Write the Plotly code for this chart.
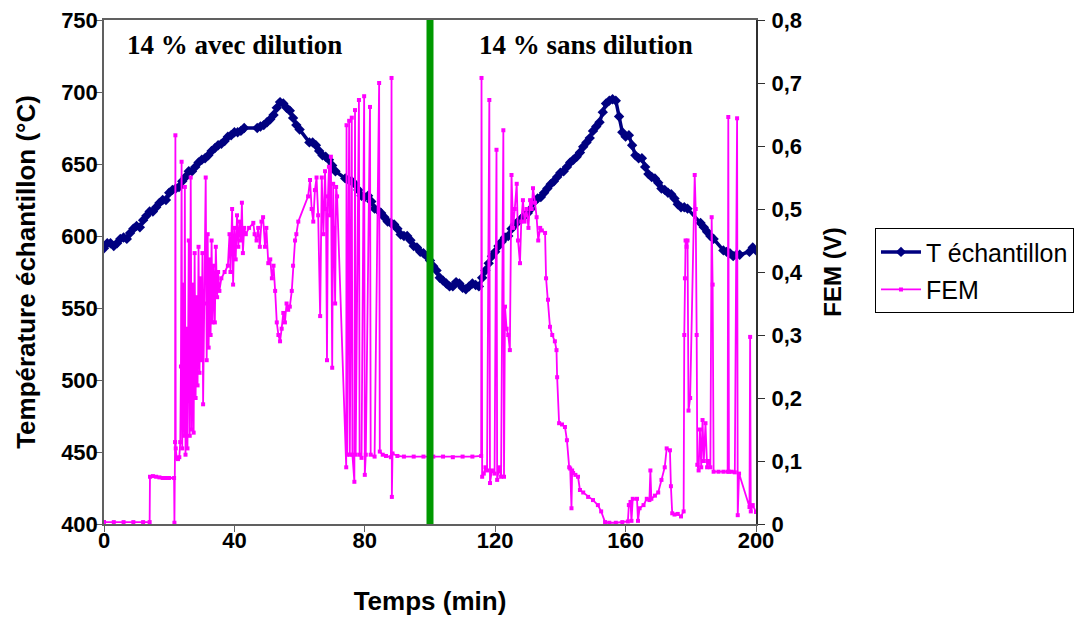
import plotly.graph_objects as go

# ---------------- data ----------------
temp_t = [0, 1, 2, 3, 4, 5, 6, 7, 8, 9, 10, 11, 12, 13, 14, 15, 16, 17, 18, 19,
          20, 21, 22, 23, 24, 25, 26, 27, 28, 29, 30, 31, 32, 33, 34, 35, 36, 37, 38, 39,
          40, 41, 42, 43, 47, 48, 49, 50, 51, 52, 53, 54, 55, 56, 57, 58, 59, 60,
          63, 64, 65, 66, 67, 68, 69, 70, 71, 74, 75, 76, 77, 78, 79,
          80, 81, 82, 83, 84, 85, 86, 87, 88, 89, 90, 91, 92, 93, 94, 95, 96, 97, 98, 99,
          100, 101, 102, 103, 104, 105, 106, 107, 108, 109, 110, 111, 112, 113, 114, 115, 116, 117, 118, 119,
          120, 121, 122, 123, 124, 125, 126, 127, 128, 129, 130, 131, 132, 133, 134, 135, 136, 137, 138, 139,
          140, 141, 142, 143, 144, 145, 146, 147, 148, 149, 150, 151, 152, 153, 154, 155, 156, 157, 158, 159,
          160, 161, 162, 163, 164, 165, 166, 167, 168, 169, 170, 171, 172, 173, 174, 175, 176, 177, 178, 179,
          183, 184, 185, 186, 187, 190, 191, 192, 193, 194, 195, 198, 199, 200]
temp_v = [591.5, 595, 595, 593, 595, 598, 599, 598, 602, 605, 607, 606, 611, 614, 617, 617, 620, 623, 625, 625,
          630, 632, 633, 634, 638, 641, 645, 645, 648, 651, 653, 654, 656, 659, 661, 663, 664, 666, 669, 670,
          672, 672, 673, 675, 675, 676, 677, 679, 681, 684, 689, 693, 692, 689, 687, 682, 677, 674,
          665, 665, 663, 659, 656, 655, 653, 649, 645, 640, 639, 638, 636, 632, 628,
          627, 628, 624, 619, 618, 616, 613, 610, 609, 608, 605, 601, 600, 600, 597, 593, 592, 589, 588, 586,
          583, 579, 576, 571, 569, 567, 565, 565, 568, 567, 564, 563, 565, 567, 566, 565, 571, 576, 581, 586,
          589, 593, 596, 599, 600, 605, 608, 610, 612, 614, 616, 619, 624, 626, 627, 630, 633, 636, 638, 641,
          644, 645, 648, 651, 653, 655, 658, 662, 665, 668, 673, 676, 679, 686, 692, 694, 695, 694, 683, 672,
          669, 670, 663, 656, 654, 654, 648, 643, 641, 640, 637, 633, 632, 630, 629, 626, 622, 620, 620, 619,
          609, 606, 603, 600, 598, 590, 589, 588, 586, 587, 587, 589, 592, 590]

fem_t = [0, 3, 6, 9, 12, 14.0, 14.1, 15, 16, 17, 18, 19, 20, 21.5, 21.6, 21.8, 21.9, 22.0, 22.3, 22.7,
         23.1, 23.4, 23.6, 23.8, 24.0, 24.3, 24.6, 24.8, 25.0, 25.3, 25.6, 26.0, 26.3, 26.6, 26.9, 27.2, 27.5, 27.8, 28.1, 28.4,
         28.7, 29.0, 29.3, 29.6, 29.9, 30.2, 30.4, 30.8, 31.2, 31.5, 31.8, 32.1, 32.4, 32.7, 33.0, 33.3, 33.6, 34.0, 34.3, 34.7,
         35.0, 35.4, 36.0, 37.0, 38.0, 38.5, 38.8, 39.3, 39.6, 40.0, 40.4, 40.8, 41.2, 41.6, 42.0, 42.3, 42.6, 43.0, 43.5, 44.5,
         45.8, 46.2, 46.8, 47.3, 47.8, 48.3, 48.8, 49.4, 49.8, 50.4, 51.0, 51.5, 52.0, 52.5, 53.0, 53.5, 54.0, 54.5, 55.0, 55.5,
         56.0, 56.5, 57.0, 57.6, 58.0, 58.6, 59.0, 59.6, 62.6, 63.2, 63.7, 64.2, 64.7, 65.2, 65.7, 66.3, 66.8, 67.3, 67.8, 68.1,
         68.4, 68.7, 69.0, 69.3, 69.6, 70.0, 70.3, 70.6, 70.9, 71.2, 71.5, 74.3, 74.4, 74.6, 75.2, 75.4, 76.0, 76.2, 76.8, 77.0,
         77.2, 78.2, 78.4, 79.0, 79.8, 80.0, 80.3, 81.6, 81.8, 83.0, 84.4, 84.6, 85.5, 86.5, 88.0, 88.2, 88.3, 88.5, 90, 92,
         95, 98, 101, 104, 107, 110, 113, 115.7, 115.8, 116.0, 116.5, 117.0, 117.5, 118.2, 118.4, 119.0, 119.8, 120.4, 120.6, 121.2,
         121.8, 122.5, 122.7, 123.0, 123.5, 124.0, 124.5, 125.0, 125.5, 126.0, 126.6, 127.0, 127.6, 128.0, 128.5, 129.0, 129.6, 130.2, 130.7, 131.2,
         131.6, 132.2, 132.7, 133.2, 133.8, 134.3, 135.3, 135.6, 136.2, 136.8, 137.5, 138.3, 138.8, 139.0, 139.6, 140.5, 141.4, 142.0, 142.7, 143.0,
         143.4, 143.6, 143.9, 144.6, 145.4, 146.0, 147.0, 148.5, 150.0, 151.5, 152.5, 153.7, 155, 157, 159, 160.7, 161.0, 161.5, 161.8, 162.2,
         163.5, 163.8, 164.3, 165.5, 166.5, 167.3, 167.6, 167.9, 169.0, 170.0, 171.0, 172.0, 172.6, 173.6, 173.9, 174.3, 175.0, 176.0, 177.0, 177.8,
         178.0, 178.2, 178.4, 178.7, 179.0, 179.3, 179.8, 181.2, 181.5, 181.8, 182.0, 182.4, 182.8, 183.2, 183.6, 184.0, 184.5, 185.0, 185.5, 186.0,
         186.4, 186.7, 187.0, 188.5, 190.0, 191.3, 191.5, 191.7, 192.5, 193.5, 194.2, 194.4, 194.8, 198.0, 198.2, 198.4, 199.0, 200.0]
fem_v = [0.003, 0.003, 0.003, 0.003, 0.003, 0.003, 0.075, 0.076, 0.075, 0.074, 0.073, 0.073, 0.073, 0.073, 0.002, 0.13, 0.617, 0.12, 0.105, 0.103,
         0.106, 0.13, 0.25, 0.575, 0.12, 0.38, 0.14, 0.535, 0.11, 0.31, 0.12, 0.45, 0.14, 0.55, 0.15, 0.38, 0.145, 0.43, 0.2, 0.36,
         0.22, 0.44, 0.24, 0.39, 0.26, 0.43, 0.19, 0.35, 0.55, 0.26, 0.46, 0.28, 0.42, 0.3, 0.45, 0.32, 0.41, 0.32, 0.44, 0.36,
         0.40, 0.37, 0.39, 0.40, 0.41, 0.46, 0.40, 0.50, 0.38, 0.47, 0.42, 0.49, 0.44, 0.48, 0.45, 0.51, 0.43, 0.47, 0.46, 0.47,
         0.478, 0.46, 0.45, 0.47, 0.44, 0.48, 0.487, 0.44, 0.47, 0.414, 0.42, 0.39, 0.41, 0.37, 0.32, 0.30, 0.29, 0.31, 0.335, 0.32,
         0.35, 0.34, 0.345, 0.37, 0.41, 0.45, 0.46, 0.48, 0.52, 0.546, 0.50, 0.48, 0.53, 0.55, 0.49, 0.33, 0.55, 0.46, 0.56, 0.50,
         0.26, 0.52, 0.567, 0.49, 0.583, 0.248, 0.54, 0.47, 0.35, 0.535, 0.52, 0.09, 0.633, 0.11, 0.64, 0.11, 0.645, 0.11, 0.067, 0.657,
         0.11, 0.673, 0.11, 0.105, 0.679, 0.078, 0.11, 0.662, 0.11, 0.107, 0.70, 0.115, 0.11, 0.108, 0.106, 0.708, 0.043, 0.112, 0.108, 0.107,
         0.107, 0.107, 0.107, 0.107, 0.106, 0.107, 0.107, 0.108, 0.708, 0.075, 0.08, 0.09, 0.085, 0.673, 0.065, 0.085, 0.08, 0.594, 0.07, 0.09,
         0.075, 0.625, 0.075, 0.345, 0.31, 0.30, 0.276, 0.554, 0.47, 0.50, 0.54, 0.45, 0.414, 0.48, 0.514, 0.48, 0.50, 0.47, 0.514, 0.50,
         0.533, 0.51, 0.487, 0.45, 0.47, 0.466, 0.462, 0.39, 0.356, 0.313, 0.30, 0.29, 0.276, 0.233, 0.16, 0.158, 0.154, 0.133, 0.09, 0.088,
         0.025, 0.085, 0.081, 0.078, 0.075, 0.054, 0.05, 0.043, 0.038, 0.03, 0.02, 0.003, 0.002, 0.002, 0.003, 0.004, 0.03, 0.035, 0.005, 0.04,
         0.04, 0.005, 0.025, 0.03, 0.04, 0.038, 0.085, 0.04, 0.045, 0.05, 0.07, 0.09, 0.12, 0.117, 0.06, 0.017, 0.015, 0.016, 0.012, 0.02,
         0.30, 0.39, 0.45, 0.44, 0.45, 0.18, 0.20, 0.554, 0.50, 0.30, 0.094, 0.085, 0.15, 0.09, 0.165, 0.10, 0.16, 0.09, 0.10, 0.09,
         0.487, 0.38, 0.083, 0.083, 0.083, 0.083, 0.646, 0.083, 0.083, 0.082, 0.644, 0.014, 0.08, 0.027, 0.297, 0.02, 0.03, 0.019]

x_ticks = [0, 40, 80, 120, 160, 200]
y_left_ticks = [400, 450, 500, 550, 600, 650, 700, 750]
y_right_ticks = [0, 0.1, 0.2, 0.3, 0.4, 0.5, 0.6, 0.7, 0.8]
y_right_labels = ["0", "0,1", "0,2", "0,3", "0,4", "0,5", "0,6", "0,7", "0,8"]

divider_t = 100
phase_labels = ["14 % avec dilution", "14 % sans dilution"]
phase_label_t = [40, 148]

series_names = ["T échantillon", "FEM"]

# ---------------- figure ----------------
SANS = "Liberation Sans, Arial, sans-serif"
SERIF = "Liberation Serif, Times New Roman, serif"
NAVY = "#000080"
MAGENTA = "#FF00FF"
GREEN = "#009900"

fig = go.Figure()
fig.add_trace(go.Scatter(
    x=temp_t, y=temp_v, name=series_names[0], mode="lines+markers",
    line=dict(color=NAVY, width=3.5), marker=dict(symbol="diamond", size=8, color=NAVY),
    legendgroup="a", yaxis="y"))
fig.add_trace(go.Scatter(
    x=fem_t, y=fem_v, name=series_names[1], mode="lines+markers",
    line=dict(color=MAGENTA, width=1.8), marker=dict(symbol="square", size=4, color=MAGENTA),
    legendgroup="b", yaxis="y2"))

fig.add_shape(type="line", xref="x", yref="paper", x0=divider_t, x1=divider_t, y0=0, y1=1,
              line=dict(color=GREEN, width=7), layer="above")

for txt, tx in zip(phase_labels, phase_label_t):
    fig.add_annotation(x=tx, y=0.95, xref="x", yref="paper", text="<b>%s</b>" % txt,
                       showarrow=False, font=dict(family=SERIF, size=27, color="black"),
                       xanchor="center", yanchor="middle")

fig.update_layout(
    width=1079, height=613,
    margin=dict(l=96, r=331, t=12, b=97),
    paper_bgcolor="white", plot_bgcolor="white",
    font=dict(family=SANS, color="black"),
    xaxis=dict(range=[0, 200], tickmode="array", tickvals=x_ticks, automargin=False,
               ticks="outside", ticklen=6, tickcolor="#606060", ticklabelstandoff=-10,
               ticklabeloverflow="allow",
               showline=True, linecolor="#606060", linewidth=1.5, mirror=True,
               showgrid=False, zeroline=False,
               tickfont=dict(family=SANS, size=22, color="black", weight="bold"),
               title=dict(text="<b>Temps (min)</b>", font=dict(family=SANS, size=26), standoff=40)),
    yaxis=dict(range=[400, 750], tickmode="array", tickvals=y_left_ticks, automargin=False,
               ticks="outside", ticklen=6, tickcolor="#606060", ticklabelstandoff=-6,
               ticklabeloverflow="allow",
               showline=True, linecolor="#606060", linewidth=1.5,
               showgrid=False, zeroline=False,
               tickfont=dict(family=SANS, size=22, color="black", weight="bold"),
               title=dict(text="<b>Température échantillon (°C)</b>", font=dict(family=SANS, size=26), standoff=18)),
    yaxis2=dict(range=[0, 0.8], overlaying="y", side="right", tickmode="array", automargin=False,
                tickvals=y_right_ticks, ticktext=y_right_labels,
                ticks="outside", ticklen=7, tickcolor="#303030", ticklabelstandoff=2,
                ticklabeloverflow="allow",
                showline=True, linecolor="#303030", linewidth=2,
                showgrid=False, zeroline=False,
                tickfont=dict(family=SANS, size=22, color="black", weight="bold"),
                title=dict(text="<b>FEM (V)</b>", font=dict(family=SANS, size=24), standoff=22)),
    legend=dict(x=1.1825, y=0.587, xanchor="left", yanchor="top",
                bordercolor="black", borderwidth=1, bgcolor="white",
                font=dict(family=SANS, size=25, color="black"),
                traceorder="grouped", tracegroupgap=2, itemwidth=40),
    showlegend=True,
)

fig.write_html("out.html")
